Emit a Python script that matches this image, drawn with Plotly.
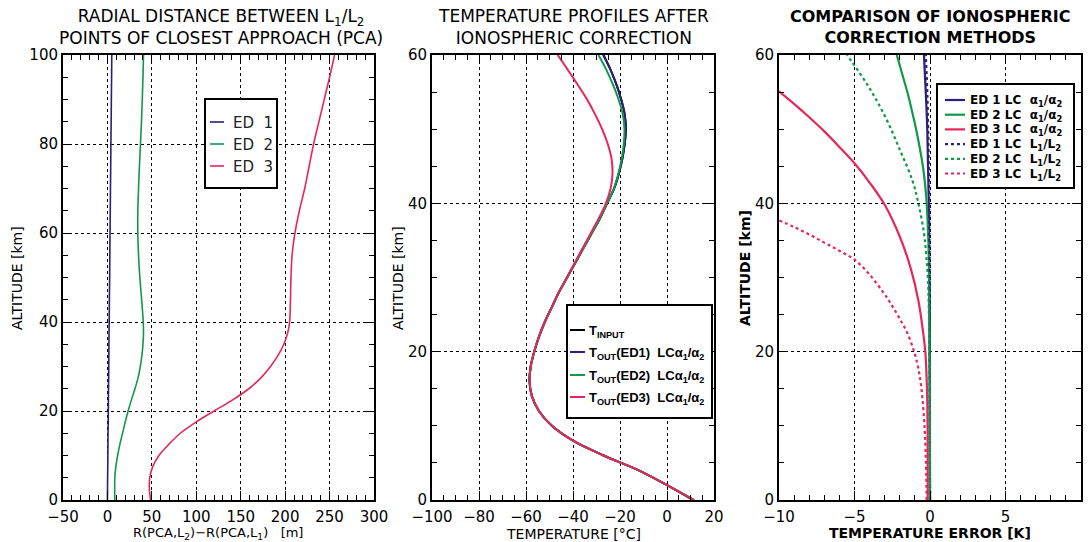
import plotly.graph_objects as go

# ---------------- Panel 1: radial distance between L1/L2 PCA ----------------
alt_pca = [0, 2.5, 5, 7.5, 10, 12.5, 15, 17.5, 20, 22.5, 25, 27.5, 30, 32.5, 35,
           37.5, 40, 45, 50, 55, 60, 65, 70, 75, 80, 85, 90, 95, 100]
pca_ed1 = [0.0, 0.1, 0.2, 0.4, 0.5, 0.6, 0.7, 0.9, 1.0, 1.1, 1.2, 1.4, 1.5, 1.6, 1.7,
           1.8, 2.0, 2.2, 2.5, 2.7, 2.9, 3.2, 3.4, 3.7, 3.9, 4.2, 4.4, 4.7, 4.9]
pca_ed2 = [8.3, 8.2, 8.3, 9.5, 11.5, 14.0, 17.0, 20.0, 23.3, 27.0, 31.0, 34.5, 37.0, 38.8, 40.0,
           40.6, 40.3, 38.5, 36.5, 35.0, 34.2, 34.2, 35.0, 36.0, 37.2, 38.3, 39.2, 40.0, 40.6]
pca_ed3 = [48.5, 47.2, 47.6, 51.0, 58.0, 69.0, 82.0, 99.6, 120.0, 141.0, 159.0, 173.0, 183.5, 192.0, 198.5,
           202.8, 205.0, 206.0, 206.6, 207.8, 211.0, 216.0, 222.0, 227.0, 232.0, 238.0, 244.0, 250.0, 255.6]

# ---------------- Panel 2: temperature profiles ----------------
alt_t = [0, 2, 4, 6, 8, 10, 12, 14, 16, 18, 20, 22, 24, 26, 28, 30, 32, 34, 36, 38,
         40, 42, 44, 46, 48, 50, 52, 54, 56, 58, 60]
t_input = [11.0, 0.0, -12.0, -27.0, -40.0, -49.0, -54.5, -57.5, -58.5, -58.0, -56.5, -54.5, -52.0, -49.0, -46.0,
           -42.5, -39.0, -35.5, -32.0, -28.5, -25.5, -22.5, -20.5, -19.0, -18.0, -17.5, -18.0, -19.5, -21.5, -24.0, -27.0]
t_ed1 = [11.5, 0.0, -12.0, -27.0, -40.0, -49.0, -54.5, -57.5, -58.5, -58.0, -56.5, -54.5, -52.0, -49.0, -46.0,
         -42.5, -39.0, -35.5, -32.0, -28.5, -25.5, -22.5, -20.5, -19.0, -18.0, -17.5, -18.0, -19.5, -21.5, -24.0, -27.2]
t_ed2 = [11.5, 0.0, -12.0, -27.0, -40.0, -49.0, -54.5, -57.5, -58.5, -58.0, -56.5, -54.5, -52.0, -49.0, -46.0,
         -42.5, -39.0, -35.5, -32.0, -28.5, -25.5, -22.6, -20.7, -19.3, -18.4, -18.1, -18.8, -20.6, -23.0, -25.8, -29.2]
t_ed3 = [11.5, 0.0, -12.0, -27.0, -40.0, -49.0, -54.5, -57.5, -58.5, -58.0, -56.5, -54.5, -52.0, -49.0, -46.0,
         -42.6, -39.2, -35.8, -32.4, -29.0, -26.0, -24.0, -23.2, -23.6, -25.2, -27.6, -30.6, -34.0, -38.0, -42.2, -46.5]

# ---------------- Panel 3: temperature error of correction methods ----------------
alt_e1a = [0, 20, 40, 50, 55, 60]
err_e1a = [0.0, -0.02, -0.08, -0.18, -0.28, -0.4]
alt_e2a = [0, 10, 20, 30, 35, 40, 42.5, 45, 47.5, 50, 52.5, 55, 57.5, 60]
err_e2a = [0.0, -0.01, -0.03, -0.06, -0.11, -0.22, -0.32, -0.47, -0.68, -0.92, -1.2, -1.5, -1.85, -2.2]
alt_e3a = [0, 10, 15, 20, 22.5, 26.9, 31.4, 35.5, 39.8, 42.8, 45.4, 47.6, 49.7, 51.6, 53.4, 55.1]
err_e3a = [-0.15, -0.16, -0.2, -0.31, -0.45, -0.77, -1.3, -2.0, -3.0, -4.0, -5.0, -6.0, -7.0, -8.0, -9.0, -10.0]
alt_e1l = [0, 30, 45, 55, 60]
err_e1l = [0.0, -0.03, -0.08, -0.18, -0.28]
alt_e2l = [0, 10, 20, 25, 30, 33, 36, 40, 43, 47, 51.7, 56, 60]
err_e2l = [0.0, -0.01, -0.03, -0.07, -0.14, -0.25, -0.4, -0.77, -1.15, -1.95, -2.97, -4.15, -5.5]
alt_e3l = [0, 6.5, 11.1, 15.6, 18, 20, 22.5, 24.6, 26.5, 28.0, 30.4, 32.4, 33.6, 34.7, 35.8, 36.8, 37.7]
err_e3l = [-0.22, -0.29, -0.4, -0.6, -0.8, -1.05, -1.5, -2.05, -2.6, -3.1, -4.0, -5.0, -6.0, -7.0, -8.0, -9.0, -10.0]

# legend labels
leg1_labels = ["ED\u00a0\u00a01", "ED\u00a0\u00a02", "ED\u00a0\u00a03"]
leg2_labels = ["T<sub>INPUT</sub>",
               "T<sub>OUT</sub>(ED1)\u00a0\u00a0LCα<sub>1</sub>/α<sub>2</sub>",
               "T<sub>OUT</sub>(ED2)\u00a0\u00a0LCα<sub>1</sub>/α<sub>2</sub>",
               "T<sub>OUT</sub>(ED3)\u00a0\u00a0LCα<sub>1</sub>/α<sub>2</sub>"]
leg3_labels = ["ED\u00a01\u00a0LC\u00a0\u00a0α<sub>1</sub>/α<sub>2</sub>",
               "ED\u00a02\u00a0LC\u00a0\u00a0α<sub>1</sub>/α<sub>2</sub>",
               "ED\u00a03\u00a0LC\u00a0\u00a0α<sub>1</sub>/α<sub>2</sub>",
               "ED\u00a01\u00a0LC\u00a0\u00a0L<sub>1</sub>/L<sub>2</sub>",
               "ED\u00a02\u00a0LC\u00a0\u00a0L<sub>1</sub>/L<sub>2</sub>",
               "ED\u00a03\u00a0LC\u00a0\u00a0L<sub>1</sub>/L<sub>2</sub>"]

NAVY = "#2c1f7c"
GREEN = "#10994a"
RED = "#e4285a"
FONT = "DejaVu Sans"

W, H = 1090, 542


def px_x(a, b):
    return [a / W, b / W]


def px_y(top, bottom):
    return [1 - bottom / H, 1 - top / H]


fig = go.Figure()

# panel 1
p1 = [(leg1_labels[0], pca_ed1, NAVY), (leg1_labels[1], pca_ed2, GREEN), (leg1_labels[2], pca_ed3, RED)]
for name, xs, col in p1:
    fig.add_trace(go.Scatter(x=xs, y=alt_pca, mode="lines", name=name, showlegend=False,
                             line=dict(color=col, width=1.6, shape="spline"), xaxis="x", yaxis="y"))

# panel 2
p2 = [(leg2_labels[0], t_input, "black"), (leg2_labels[1], t_ed1, NAVY),
      (leg2_labels[2], t_ed2, GREEN), (leg2_labels[3], t_ed3, RED)]
for name, xs, col in p2:
    fig.add_trace(go.Scatter(x=xs, y=alt_t, mode="lines", name=name, showlegend=False,
                             line=dict(color=col, width=2, shape="spline"), xaxis="x2", yaxis="y2"))

# panel 3
p3 = [(leg3_labels[0], err_e1a, alt_e1a, NAVY, "solid"),
      (leg3_labels[1], err_e2a, alt_e2a, GREEN, "solid"),
      (leg3_labels[2], err_e3a, alt_e3a, RED, "solid"),
      (leg3_labels[3], err_e1l, alt_e1l, NAVY, "dot"),
      (leg3_labels[4], err_e2l, alt_e2l, GREEN, "dot"),
      (leg3_labels[5], err_e3l, alt_e3l, RED, "dot")]
for name, xs, ys, col, dash in p3:
    fig.add_trace(go.Scatter(x=xs, y=ys, mode="lines", name=name, showlegend=False,
                             line=dict(color=col, width=2.2, dash=dash, shape="spline"),
                             xaxis="x3", yaxis="y3"))


def ax(dom, rng, dtick, minor, anchor, is_x):
    d = dict(domain=dom, range=rng, dtick=dtick, tick0=0, anchor=anchor, automargin=False,
             ticks="inside", ticklen=9, tickwidth=1.2, tickcolor="black",
             minor=dict(dtick=minor, ticks="inside", ticklen=5, tickwidth=1.2, tickcolor="black", showgrid=False),
             showline=True, linecolor="black", linewidth=2, mirror="allticks",
             showgrid=True, gridcolor="black", griddash="dot", gridwidth=1,
             zeroline=False, tickfont=dict(family=FONT, size=15, color="black"))
    if is_x:
        d["ticklabelstandoff"] = 2
    return d


ydom = px_y(55, 500)
fig.update_layout(
    width=W, height=H, margin=dict(l=0, r=0, t=0, b=0, autoexpand=False),
    paper_bgcolor="white", plot_bgcolor="white", showlegend=False,
    xaxis=ax(px_x(63, 374), [-50, 300], 50, 10, "y", True),
    yaxis=ax(ydom, [0, 100], 20, 5, "x", False),
    xaxis2=ax(px_x(432, 714), [-100, 20], 20, 5, "y2", True),
    yaxis2=ax(ydom, [0, 60], 20, 5, "x2", False),
    xaxis3=ax(px_x(779, 1081), [-10, 10], 5, 1, "y3", True),
    yaxis3=ax(ydom, [0, 60], 20, 5, "x3", False),
)

ann = []
shapes = []


def label(text, x, y, size=15, angle=0, bold=False, family=FONT, color="black", xanchor="center"):
    t = f"<b>{text}</b>" if bold else text
    ann.append(dict(text=t, x=x / W, y=1 - y / H, xref="paper", yref="paper",
                    showarrow=False, textangle=angle, xanchor=xanchor, yanchor="middle",
                    font=dict(family=family, size=size, color=color)))


def legend_box(box, rows, sample, text_x, entries, size, bold, family, color, lw):
    x0, y0, x1, y1 = box
    shapes.append(dict(type="rect", xref="paper", yref="paper",
                       x0=x0 / W, x1=x1 / W, y0=1 - y1 / H, y1=1 - y0 / H,
                       line=dict(color="black", width=2), fillcolor="white", layer="above"))
    for ry, (text, col, dash) in zip(rows, entries):
        shapes.append(dict(type="line", xref="paper", yref="paper",
                           x0=sample[0] / W, x1=sample[1] / W, y0=1 - ry / H, y1=1 - ry / H,
                           line=dict(color=col, width=lw, dash=dash), layer="above"))
        label(text, text_x, ry + 1, size, bold=bold, family=family, color=color, xanchor="left")


legend_box((205, 99, 277, 188), [122, 144, 166], (210, 224), 231,
           [(p[0], p[2], "solid") for p in p1], 15, False, FONT, "#222", 1.6)
legend_box((567, 305, 712, 418), [330, 352, 375, 397], (570, 585), 587,
           [(p[0], p[2], "solid") for p in p2], 13, True, "Liberation Sans", "black", 2)
legend_box((937, 84, 1074, 188), [100, 114.7, 129.4, 144.1, 158.8, 173.5], (945, 965), 968,
           [(p[0], p[3], p[4]) for p in p3], 12, True, FONT, "black", 2.2)

label("RADIAL DISTANCE BETWEEN L<sub>1</sub>/L<sub>2</sub><br>POINTS OF CLOSEST APPROACH (PCA)", 221, 27, 17)
label("TEMPERATURE PROFILES AFTER<br>IONOSPHERIC CORRECTION", 573, 27, 17)
label("COMPARISON OF IONOSPHERIC<br>CORRECTION METHODS", 930, 27, 16, bold=True)
label("ALTITUDE [km]", 17, 278, 14, -90)
label("ALTITUDE [km]", 398, 278, 14, -90)
label("ALTITUDE [km]", 745, 268, 14, -90, bold=True)
label("R(PCA,L<sub>2</sub>)−R(PCA,L<sub>1</sub>)\u00a0\u00a0\u00a0[m]", 218, 533.5, 13)
label("TEMPERATURE [°C]", 573, 534, 14)
label("TEMPERATURE ERROR [K]", 930, 533, 14, bold=True)
fig.update_layout(annotations=ann, shapes=shapes)

fig.write_html("out.html")
